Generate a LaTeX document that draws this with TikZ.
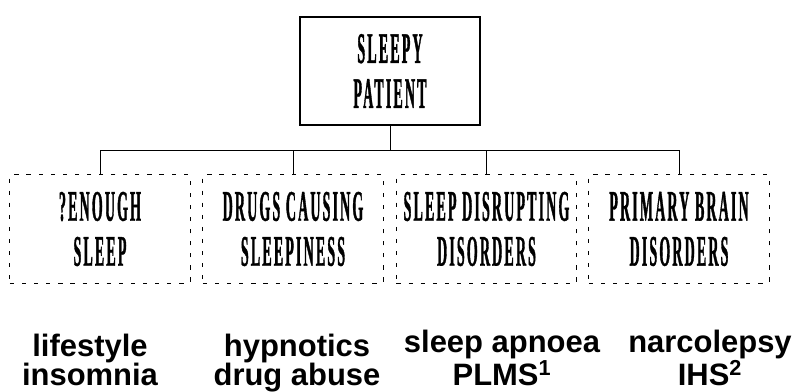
\documentclass[tikz,border=0pt]{standalone}
\usepackage{fontspec}
\newfontfamily\capsfont{Liberation Serif Bold}[FakeStretch=0.32, LetterSpace=5, FakeBold=0.8]
\newfontfamily\causefont{Liberation Sans Bold}
\begin{document}
\begin{tikzpicture}[
    x=0.025cm, y=-0.025cm,
    topbox/.style={draw, line width=2pt, minimum width=4.5cm, minimum height=2.7cm,
      align=center, font=\capsfont\fontsize{31}{32}\selectfont, inner sep=0pt},
    catbox/.style={draw, line width=0.7pt, dash pattern=on 3pt off 5.6pt,
      minimum width=4.5cm, minimum height=2.7cm, align=center,
      font=\capsfont\fontsize{31}{32}\selectfont, inner sep=0pt},
    link/.style={line width=0.7pt},
    lbl/.style={align=center, anchor=base, font=\causefont\fontsize{22}{20.7}\selectfont, inner sep=0pt},
  ]
    \useasboundingbox (0,0) rectangle (804,392);

    % === Root ===
    \node[topbox] (root) at (390,71) {SLEEPY\\PATIENT};

    % === Categories ===
    \node[catbox] (enough) at (100,229) {?ENOUGH\\SLEEP};
    \node[catbox] (drugs) at (293,229) {DRUGS CAUSING\\SLEEPINESS};
    \node[catbox] (disrupt) at (486.5,229) {SLEEP DISRUPTING\\DISORDERS};
    \node[catbox] (brain) at (679,229) {PRIMARY BRAIN\\DISORDERS};

    % Tree lines
    \coordinate (bus) at (390,150);
    \draw[link] (root.south) -- (root.south |- bus);
    \draw[link] (enough.north) -- (enough.north |- bus) -- (brain.north |- bus) -- (brain.north);
    \foreach \b in {drugs, disrupt}
      \draw[link] (\b.north) -- (\b.north |- bus);

    % === Examples ===
    \node[lbl] (lifestyle) at (90,386) {lifestyle\\insomnia};
    \node[lbl] (hypno) at (297,386) {hypnotics\\drug abuse};
    \node[lbl] (apnoea) at (502,386) {sleep apnoea\\PLMS\textsuperscript{1}};
    \node[lbl] (narco) at (710,386) {narcolepsy\\IHS\textsuperscript{2}};
  \end{tikzpicture}
\end{document}
